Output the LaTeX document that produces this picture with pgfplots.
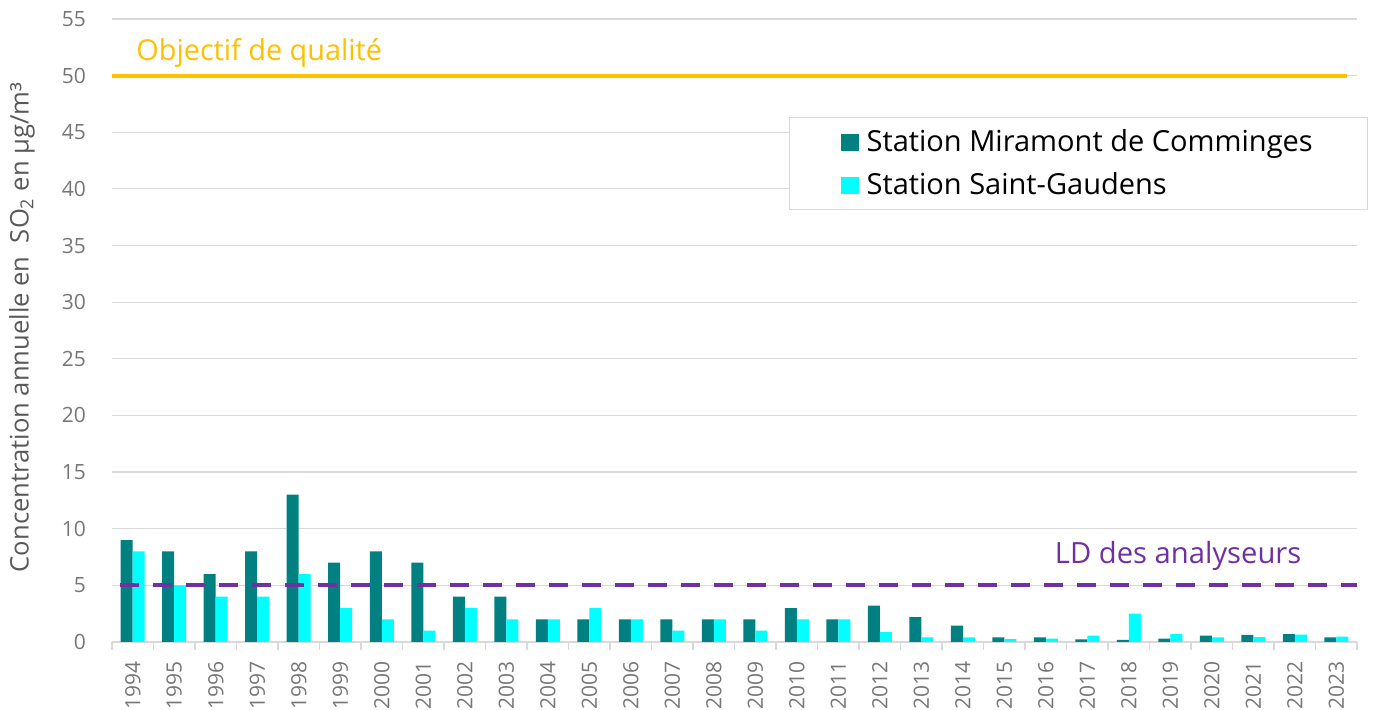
\documentclass[border=0pt]{standalone}
\usepackage{pgfplots}
\pgfplotsset{compat=1.18}
\usepackage{fontspec}
\setmainfont{Open Sans}
\definecolor{cteal}{RGB}{0,128,128}
\definecolor{ccyan}{RGB}{0,255,255}
\definecolor{cgold}{RGB}{255,192,0}
\definecolor{cpurple}{RGB}{112,48,160}
\definecolor{ctick}{RGB}{118,118,118}
\definecolor{clabel}{RGB}{89,89,89}
\definecolor{cgrid}{RGB}{217,217,217}
\begin{document}
\begin{tikzpicture}
\useasboundingbox (-56pt,-34pt) rectangle (630.5pt,321pt);
\begin{axis}[
  scale only axis, width=622.5pt, height=311.5pt,
  xmin=-0.5, xmax=29.5, ymin=0, ymax=55,
  axis x line*=bottom, axis y line*=left,
  x axis line style={draw=cgrid, line width=0.6pt, -},
  y axis line style={draw=none},
  ytick={0,5,...,55},
  ymajorgrids, grid style={draw=cgrid, line width=0.6pt},
  major y tick style={draw=none},
  yticklabel style={font=\fontsize{10.5}{12}\selectfont, text=ctick, xshift=-3.5pt},
  /pgf/number format/assume math mode=true,
  xtick={0,...,29},
  xticklabels={1994,1995,1996,1997,1998,1999,2000,2001,2002,2003,2004,2005,2006,2007,2008,2009,2010,2011,2012,2013,2014,2015,2016,2017,2018,2019,2020,2021,2022,2023},
  xticklabel style={font=\fontsize{10.5}{12}\selectfont, text=ctick, rotate=90, anchor=east},
  major x tick style={draw=none},
  minor xtick={-0.5,0.5,...,29.5},
  minor x tick style={draw=cgrid, line width=0.6pt},
  tick align=outside, minor tick length=4pt, major tick length=6pt,
  xtick pos=bottom, ytick pos=left,
  ylabel={Concentration annuelle en\ \ SO\textsubscript{2} en µg/m³},
  every axis y label/.style={at={(axis description cs:0,0.505)}, xshift=-45pt, rotate=90, anchor=center, font=\fontsize{12.8}{15}\selectfont, text=clabel},
  legend style={at={(axis description cs:0.5438,0.8427)}, anchor=north west, draw=cgrid, line width=0.6pt, inner xsep=25.5pt, inner ysep=4pt, font=\fontsize{14.5}{17}\selectfont, row sep=5pt, cells={anchor=west},
    /tikz/every odd column/.append style={column sep=2pt}},
  legend image code/.code={\fill[#1] (0pt,-4.3pt) rectangle (9pt,4.3pt);},
]
\addplot[ybar, bar width=6pt, bar shift=-3pt, fill=cteal, draw=none] coordinates {
(0,9) (1,8) (2,6) (3,8) (4,13) (5,7) (6,8) (7,7) (8,4) (9,4)
(10,2) (11,2) (12,2) (13,2) (14,2) (15,2) (16,3) (17,2) (18,3.2) (19,2.2)
(20,1.45) (21,0.4) (22,0.4) (23,0.24) (24,0.18) (25,0.3) (26,0.56) (27,0.62) (28,0.7) (29,0.4)};
\addlegendentry{Station Miramont de Comminges}
\addplot[ybar, bar width=6pt, bar shift=3pt, fill=ccyan, draw=none] coordinates {
(0,8) (1,5) (2,4) (3,4) (4,6) (5,3) (6,2) (7,1) (8,3) (9,2)
(10,2) (11,3) (12,2) (13,1) (14,2) (15,1) (16,2) (17,2) (18,0.9) (19,0.4)
(20,0.4) (21,0.25) (22,0.3) (23,0.56) (24,2.5) (25,0.7) (26,0.4) (27,0.44) (28,0.65) (29,0.47)};
\addlegendentry{Station Saint-Gaudens}
\addplot[forget plot, draw=cgold, line width=2pt, clip=false] coordinates {(-0.55,50) (29.26,50)};
\addplot[forget plot, draw=cpurple, line width=2pt, dash pattern=on 9.5pt off 7pt] coordinates {(-0.31,5) (29.5,5)};
\node[anchor=west, inner sep=0pt, text=cgold, font=\fontsize{14.4}{17}\selectfont] at (axis cs:0.08,52.0) {Objectif de qualité};
\node[anchor=center, text=cpurple, font=\fontsize{14.6}{17}\selectfont] at (axis cs:25.19,7.6) {LD des analyseurs};
\end{axis}
\end{tikzpicture}
\end{document}
